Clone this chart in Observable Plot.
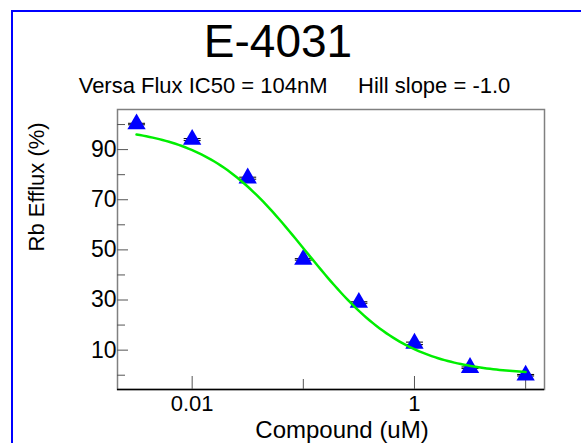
<!DOCTYPE html>
<html><head><meta charset="utf-8">
<script src="https://cdn.jsdelivr.net/npm/d3@7"></script>
<script src="https://cdn.jsdelivr.net/npm/@observablehq/plot@0.6"></script>
<style>
html,body{margin:0;padding:0;background:#fff;}
body{width:581px;height:443px;overflow:hidden;position:relative;font-family:"Liberation Sans", Arial, sans-serif;}
#border{position:absolute;left:11px;top:10px;width:700px;height:600px;border:2px solid #0000ff;box-sizing:border-box;}
.t{position:absolute;white-space:pre;transform:translateX(-50%);color:#000;}
#title{left:278px;top:18px;font-size:46px;line-height:46px;}
#sub{left:294.5px;top:74.7px;font-size:22px;line-height:22px;}
#chart{position:absolute;left:0;top:100px;}
</style></head><body>
<div id="border"></div>
<div id="title" class="t"></div>
<div id="sub" class="t"></div>
<div id="chart"></div>
<script>
const title = "E-4031";
const subtitle = "Versa Flux IC50 = 104nM     Hill slope = -1.0";
const xLabel = "Compound (uM)";
const yLabel = "Rb Efflux (%)";

const concentrations = [0.00316, 0.01, 0.0316, 0.1, 0.316, 1, 3.16, 10];
const efflux = [100.2, 94.0, 78.6, 46.2, 29.0, 12.7, 3.0, 0.0];
const errors = [0.3, 0.4, 0.4, 0.3, 0.3, 0.5, 0.3, 0.3];

const xMajorTicks = [0.01, 1];
const xMinorTicks = [0.1, 10];
const yMajorTicks = [10, 30, 50, 70, 90];
const yMinorTicks = [0, 20, 40, 60, 80, 100];

const fitTop = 99.5, fitBottom = 0, fitIC50 = 0.104, fitHill = 0.95;

const xDomain = [0.00213, 14.78];
const yDomain = [-5.7, 106];

document.getElementById("title").textContent = title;
document.getElementById("sub").textContent = subtitle;

const points = concentrations.map((c, i) => ({c, v: efflux[i], e: errors[i]}));
const caps = points.flatMap(d => [{c: d.c, v: d.v - d.e}, {c: d.c, v: d.v + d.e}]);

const lo = Math.log10(concentrations[0]), hi = Math.log10(concentrations[concentrations.length - 1]);
const curve = d3.range(0, 121).map(i => {
  const c = Math.pow(10, lo + (hi - lo) * i / 120);
  return {c, v: fitBottom + (fitTop - fitBottom) / (1 + Math.pow(c / fitIC50, fitHill))};
});

const W = 581, H = 343, mL = 117, mR = 37, mT = 9, mB = 54;
const frameW = W - mL - mR, frameH = H - mT - mB;

const capSymbol = {draw(ctx) { ctx.moveTo(-8.5, 0); ctx.lineTo(8.5, 0); }};

const chart = Plot.plot({
  width: W, height: H,
  marginLeft: mL, marginRight: mR, marginTop: mT, marginBottom: mB,
  style: {fontFamily: "'Liberation Sans', Arial, sans-serif", fontSize: "23px", background: "transparent", overflow: "visible", color: "#000"},
  x: {type: "log", domain: xDomain},
  y: {domain: yDomain},
  marks: [
    Plot.frame({stroke: "#808080", strokeWidth: 1.5}),
    Plot.ruleY([yDomain[0]], {stroke: "#000", strokeWidth: 1.5}),
    Plot.ruleY(yMajorTicks, {insetRight: frameW - 11, stroke: "#555"}),
    Plot.ruleY(yMinorTicks, {insetRight: frameW - 8, stroke: "#555"}),
    Plot.ruleX(xMajorTicks, {insetTop: frameH - 13, stroke: "#555"}),
    Plot.ruleX(xMinorTicks, {insetTop: frameH - 10, stroke: "#555"}),
    Plot.axisY(yMajorTicks, {tickSize: 0, tickPadding: 1, label: null}),
    Plot.axisX(xMajorTicks, {tickSize: 0, tickPadding: 6, label: null, fontSize: 22, tickFormat: d => String(d)}),
    Plot.text([yLabel], {text: d => d, frameAnchor: "left", rotate: -90, dx: -81, dy: 2, fontSize: 22}),
    Plot.text([xLabel], {text: d => d, frameAnchor: "bottom", lineAnchor: "bottom", dx: 11, dy: 48, fontSize: 24}),
    Plot.ruleX(points, {x: "c", y1: d => d.v - d.e, y2: d => d.v + d.e, stroke: "#000"}),
    Plot.dot(caps, {x: "c", y: "v", symbol: capSymbol, r: 3, fill: "none", stroke: "#000", strokeWidth: 1}),
    Plot.dot(points, {x: "c", y: "v", symbol: "triangle", r: 6.8, fill: "#0000ff", stroke: "none"}),
    Plot.line(curve, {x: "c", y: "v", stroke: "#00ee00", strokeWidth: 2.5})
  ]
});
document.getElementById("chart").appendChild(chart);
</script>
</body></html>
